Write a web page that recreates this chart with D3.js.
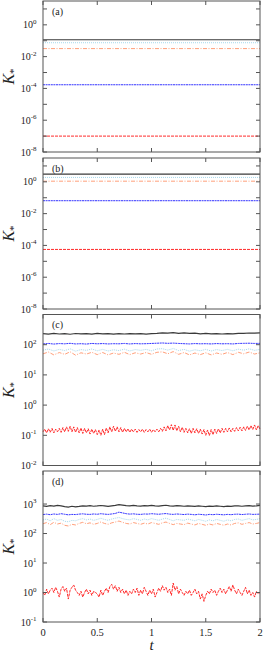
<!DOCTYPE html>
<html>
<head>
<meta charset="utf-8">
<script src="https://cdn.jsdelivr.net/npm/d3@7"></script>
<style>
body { margin: 0; background: #fff; }
text { font-family: "Liberation Serif", "DejaVu Serif", "Times New Roman", serif; fill: #222; }
</style>
</head>
<body>
<script>
// ---- data ----
const xTicks = [0, 0.5, 1, 1.5, 2];
const panelLabels = ['(a)', '(b)', '(c)', '(d)'];

// (a) and (b): constant levels, from t=0 to t=2
const aBlack = [0.115, 0.115];
const aCyan = [0.075, 0.075];
const aOrange = [0.032, 0.032];
const aBlue = [1.7e-4, 1.7e-4];
const aRed = [1.0e-7, 1.0e-7];

const bBlack = [3.1, 3.1];
const bCyan = [1.9, 1.9];
const bOrange = [1.1, 1.1];
const bBlue = [0.065, 0.065];
const bRed = [5.6e-5, 5.6e-5];

// (c) samples evenly spaced over t = 0..2
const cBlack = [232,224,236,226,234,222,235,228,233,225,236,227,232,224,234,226,233,228,231,225,233,238,248,240,250,238,246,236,240,230,236,228,234,226,232,230,236,238,244,240,246];
const cBlue = [106,110,105,109,107,111,106,108,105,110,107,109,106,108,107,110,106,109,107,108,110,112,114,111,113,110,108,106,109,107,108,106,109,107,108,106,110,111,112,110,111];
const cCyan = [66,72,62,70,64,73,61,69,65,72,63,70,62,68,64,71,62,69,65,70,63,72,74,66,75,64,70,61,68,63,70,62,69,64,70,63,71,66,73,65,70];
const cOrange = [50,57,46,55,48,58,45,54,49,56,47,55,46,53,48,56,47,54,49,55,48,56,58,50,59,48,55,46,53,47,54,46,53,48,55,47,56,50,57,49,54];
const cRed = [
  0.13,0.16,0.12,0.165,0.125,0.17,0.12,0.16,0.13,0.17,
  0.125,0.18,0.13,0.19,0.135,0.2,0.13,0.19,0.125,0.18,
  0.12,0.175,0.115,0.17,0.12,0.165,0.11,0.16,0.115,0.155,
  0.105,0.15,0.1,0.16,0.105,0.175,0.12,0.19,0.13,0.2,
  0.135,0.19,0.13,0.18,0.125,0.17,0.13,0.165,0.125,0.16,
  0.13,0.16,0.125,0.155,0.13,0.16,0.125,0.155,0.13,0.16,
  0.125,0.155,0.13,0.16,0.13,0.17,0.135,0.19,0.14,0.21,
  0.15,0.225,0.145,0.22,0.14,0.2,0.13,0.185,0.125,0.17,
  0.12,0.165,0.115,0.17,0.12,0.165,0.115,0.16,0.11,0.155,
  0.1,0.15,0.098,0.155,0.105,0.16,0.115,0.165,0.12,0.17,
  0.125,0.17,0.13,0.175,0.13,0.17,0.135,0.18,0.14,0.185,
  0.14,0.19,0.145,0.2,0.15,0.21,0.155,0.22,0.15,0.21,0.16];

// (d)
const dBlack = [860,830,880,845,900,870,820,790,840,800,830,870,850,880,840,860,890,860,830,870,900,960,920,880,860,900,870,850,880,860,900,870,850,880,910,870,850,880,860,840,870,850,830,860,840,820,850,830,860,840,820,850,830,860,870,840,860,880,850,870,900];
const dBlue = [440,455,435,460,445,470,450,430,445,440,455,465,450,445,460,450,470,455,445,460,480,530,500,470,455,465,450,445,460,455,470,460,450,465,475,455,445,460,450,440,455,445,430,450,440,425,445,435,450,440,430,445,435,450,455,440,450,460,445,450,455];
const dCyan = [290,310,270,320,280,300,260,250,280,270,300,320,290,310,280,300,330,300,280,310,330,350,320,300,290,320,300,280,310,290,320,300,280,310,330,300,270,300,290,280,310,290,270,300,280,260,290,270,300,280,260,290,270,300,310,280,300,320,290,300,320];
const dOrange = [215,235,200,240,210,225,190,180,205,195,220,240,215,230,205,220,245,220,205,230,245,265,240,220,210,235,220,205,225,210,235,220,205,230,245,220,200,220,210,200,225,210,195,220,205,190,210,195,220,205,190,210,195,220,230,205,220,235,210,220,235];
const dRed = [
  1.0,0.8,1.3,0.9,1.2,1.4,1.0,1.5,1.1,0.7,
  1.3,1.6,1.1,1.4,0.6,1.2,1.5,1.8,1.2,1.0,
  0.8,1.1,0.7,1.0,1.3,0.9,1.2,0.8,1.1,1.0,
  0.9,0.7,1.2,0.8,1.1,1.4,1.0,1.6,1.9,1.3,
  1.7,1.1,1.5,1.0,1.3,0.9,1.2,0.8,1.1,0.9,
  1.3,1.0,1.4,0.8,1.2,0.9,1.5,1.1,0.8,1.2,
  0.9,1.3,0.7,1.0,1.4,1.1,1.7,1.2,1.5,1.0,
  1.3,0.8,2.1,1.2,1.6,0.9,1.3,1.0,0.8,1.1,
  0.9,1.2,0.8,1.0,1.3,0.9,1.1,0.6,0.9,0.5,
  0.8,1.1,0.9,1.3,1.0,1.2,0.8,1.1,1.4,1.0,
  1.3,0.9,1.2,1.6,1.1,1.8,1.2,0.9,1.3,1.0,
  0.8,1.1,1.5,0.9,1.2,0.8,1.0,0.7,1.1,0.9,1.0];

// y ranges and decades
const yDomains = [[1e-8, Math.pow(10, 1.5)], [1e-8, Math.pow(10, 1.5)], [1e-2, 1e3], [1e-1, Math.pow(10, 4.12)]];
const tickExps = [d3.range(-8, 2), d3.range(-8, 2), d3.range(-2, 4), d3.range(-1, 4)];
const labelExps = [[0, -2, -4, -6, -8], [0, -2, -4, -6, -8], [2, 1, 0, -1, -2], [3, 2, 1, 0, -1]];

// ---- layout / style ----
const width = 263, height = 652;
const left = 43, right = 260;
const panelTop = [1, 158, 314.5, 471];
const panelH = 151;
const frameColor = '#555';

const styles = {
    black:  {stroke: '#3a3a3a', dash: null, w: 1.2},
    cyan:   {stroke: '#a6d8ec', dash: '1,1', w: 1},
    orange: {stroke: '#ff9f7a', dash: '4,1.5,1,1.5', w: 1},
    blue:   {stroke: '#3535ff', dash: '2,0.6', w: 1},
    red:    {stroke: '#ff2a2a', dash: '3,1', w: 1}
};

const panelSeries = [
    {black: aBlack, cyan: aCyan, orange: aOrange, blue: aBlue, red: aRed},
    {black: bBlack, cyan: bCyan, orange: bOrange, blue: bBlue, red: bRed},
    {black: cBlack, cyan: cCyan, orange: cOrange, blue: cBlue, red: cRed},
    {black: dBlack, cyan: dCyan, orange: dOrange, blue: dBlue, red: dRed}
];

const svg = d3.select('body')
    .append('svg')
    .attr('width', width)
    .attr('height', height);

let x = d3.scaleLinear().domain([0, 2]).range([left, right]);

panelTop.forEach((top, p) => {
    let y = d3.scaleLog()
        .domain(yDomains[p])
        .range([top + panelH, top]);

    let g = svg.append('g');

    let line = d3.line()
        .x((d, i, arr) => x(2 * i / (arr.length - 1)))
        .y(d => y(d));

    // series
    ['black', 'cyan', 'orange', 'blue', 'red'].forEach(k => {
        let s = styles[k];
        g.append('path')
            .datum(panelSeries[p][k])
            .attr('d', line)
            .attr('fill', 'none')
            .attr('stroke', s.stroke)
            .attr('stroke-width', s.w)
            .attr('stroke-dasharray', s.dash);
    });

    // frame
    g.append('rect')
        .attr('x', left).attr('y', top)
        .attr('width', right - left).attr('height', panelH)
        .attr('fill', 'none')
        .attr('stroke', frameColor)
        .attr('stroke-width', 1);

    // y ticks, inside on both sides
    tickExps[p].forEach(e => {
        let yy = y(Math.pow(10, e));
        g.append('line').attr('x1', left).attr('x2', left + 4)
            .attr('y1', yy).attr('y2', yy).attr('stroke', frameColor);
        g.append('line').attr('x1', right - 4).attr('x2', right)
            .attr('y1', yy).attr('y2', yy).attr('stroke', frameColor);
    });

    // y tick labels 10^e
    labelExps[p].forEach(e => {
        let t = g.append('text')
            .attr('x', 36.5)
            .attr('y', y(Math.pow(10, e)) + 3.5)
            .attr('text-anchor', 'end')
            .style('font-size', '10px');
        t.append('tspan').text('10');
        t.append('tspan').attr('dy', -4.5).style('font-size', '7px').text(String(e));
    });

    // x ticks, top and bottom
    xTicks.forEach(v => {
        let xx = x(v);
        g.append('line').attr('x1', xx).attr('x2', xx)
            .attr('y1', top + panelH).attr('y2', top + panelH - 4).attr('stroke', frameColor);
        g.append('line').attr('x1', xx).attr('x2', xx)
            .attr('y1', top).attr('y2', top + 4).attr('stroke', frameColor);
    });

    // panel label
    g.append('text')
        .attr('x', 52).attr('y', top + 13.5)
        .style('font-size', '10px')
        .text(panelLabels[p]);

    // y axis label K_*
    let cy = top + panelH / 2;
    let lab = g.append('text')
        .attr('transform', 'translate(14,' + cy + ') rotate(-90)')
        .attr('text-anchor', 'middle')
        .style('font-size', '16px')
        .style('font-style', 'italic');
    lab.append('tspan').text('K');
    lab.append('tspan').attr('dy', 3).style('font-size', '11px').style('font-style', 'normal').text('*');
});

// x tick labels and t label under the last panel
let bottom = panelTop[3] + panelH;
svg.selectAll('text.xl')
    .data(xTicks)
    .enter()
    .append('text')
    .attr('class', 'xl')
    .attr('x', d => x(d))
    .attr('y', bottom + 14)
    .attr('text-anchor', 'middle')
    .style('font-size', '10.5px')
    .text(d => d);

svg.append('text')
    .attr('x', x(1))
    .attr('y', bottom + 28)
    .attr('text-anchor', 'middle')
    .style('font-size', '15px')
    .style('font-style', 'italic')
    .text('t');
</script>
</body>
</html>
